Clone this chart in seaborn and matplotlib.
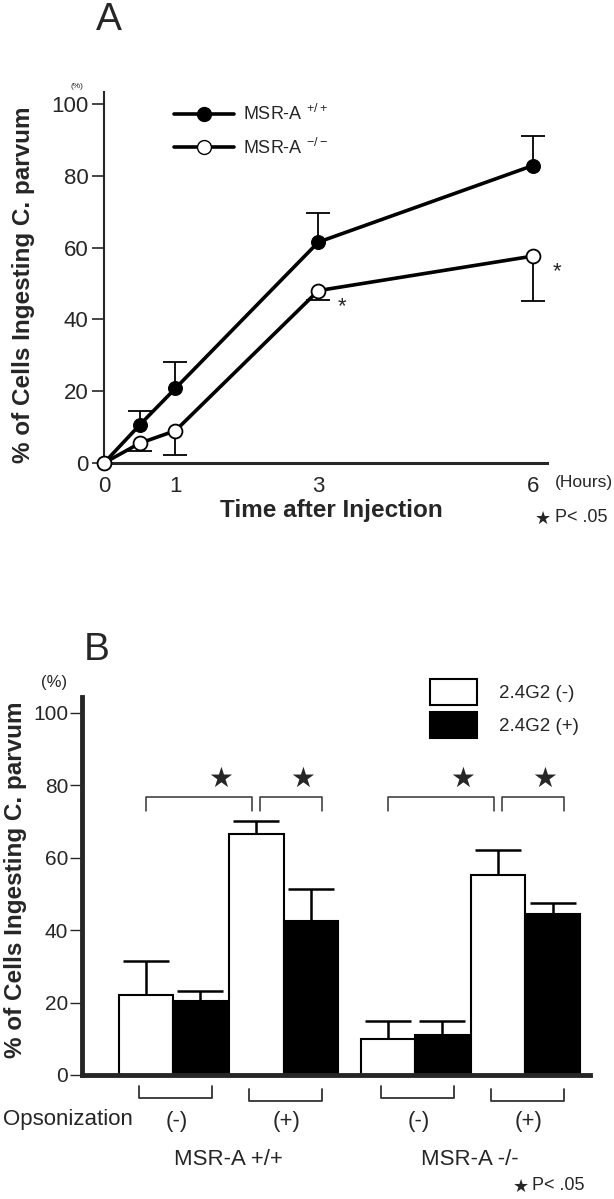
import matplotlib
matplotlib.use('Agg')
import matplotlib.pyplot as plt
import numpy as np
import pandas as pd
import seaborn as sns
from matplotlib.lines import Line2D
from matplotlib.patches import Patch

# ---- panel A: time course ----
hours = [0, 0.5, 1, 3, 6]
wt_pct = [0, 10.6, 20.8, 61.5, 82.8]
wt_err = [0, 4.0, 7.3, 8.0, 8.2]
ko_pct = [0, 5.5, 9.0, 48.0, 57.6]
ko_err = [0, 2.1, 6.8, 2.6, 12.6]
a_xticks = [0, 1, 3, 6]
a_yticks = [0, 20, 40, 60, 80, 100]
a_sig_hours = [3, 6]
a_labels = [r'MSR-A $^{+/+}$', r'MSR-A $^{-/-}$']

# ---- panel B: bars ----
genotype = ['MSR-A +/+'] * 4 + ['MSR-A -/-'] * 4
opson = ['(-)', '(-)', '(+)', '(+)'] * 2
blocker = ['2.4G2 (-)', '2.4G2 (+)'] * 4
b_means = [22.2, 20.3, 66.4, 42.4, 9.9, 11.1, 55.3, 44.4]
b_errs = [9.2, 2.8, 3.8, 9.0, 4.9, 3.7, 6.9, 3.0]
b_yticks = [0, 20, 40, 60, 80, 100]

W, H = 614, 1199


def fx(px):
    return px / W


def fy(py):
    return 1 - py / H


def one_sided(ax, x, y, err, up=True, **kw):
    # error bar drawn on one side only, cap only at the far end
    zeros = np.zeros(len(err))
    yerr = [zeros, err] if up else [err, zeros]
    _, caps, _ = ax.errorbar(x, y, yerr=yerr, fmt='none', ecolor='black', **kw)
    caps[0 if up else 1].set_visible(False)


sns.set_style('ticks')
plt.rcParams['font.family'] = ['Liberation Sans', 'DejaVu Sans']
plt.rcParams['mathtext.fontset'] = 'custom'
plt.rcParams['mathtext.rm'] = 'Liberation Sans'
plt.rcParams['mathtext.it'] = 'Liberation Sans'

fig = plt.figure(figsize=(W / 100, H / 100), dpi=100)

# ================= Panel A =================
axA = fig.add_axes([fx(104), fy(463), fx(443), 371 / H])
sns.lineplot(x=hours, y=wt_pct, ax=axA, color='black', lw=2.6, marker='o',
             markersize=10, mfc='black', mec='black', clip_on=False, zorder=4)
sns.lineplot(x=hours, y=ko_pct, ax=axA, color='black', lw=2.6, marker='o',
             markersize=10, mfc='white', mec='black', mew=1.3, clip_on=False, zorder=5)
one_sided(axA, hours[1:], wt_pct[1:], wt_err[1:], up=True,
          elinewidth=1.3, capsize=8.5, capthick=1.3, zorder=3)
one_sided(axA, hours[1:], ko_pct[1:], ko_err[1:], up=False,
          elinewidth=1.3, capsize=8.5, capthick=1.3, zorder=3)
for h in a_sig_hours:
    axA.annotate('*', xy=(h, ko_pct[hours.index(h)]), xytext=(24, -16),
                 textcoords='offset pixels', ha='center', va='center', fontsize=16)

axA.set_xlim(0, 6.2)
axA.set_ylim(0, 103.3)
axA.set_xticks(a_xticks)
axA.set_yticks(a_yticks)
axA.tick_params(axis='x', length=0, pad=9, labelsize=16)
axA.tick_params(axis='y', length=9, width=1.2, pad=2, labelsize=16)
axA.set_xlabel('')
axA.set_ylabel('')
sns.despine(ax=axA)
axA.spines['left'].set_linewidth(1.5)
axA.spines['bottom'].set_linewidth(2.2)

handles = [Line2D([], [], color='black', lw=2.6, marker='o', ms=10, mfc='black', mec='black'),
           Line2D([], [], color='black', lw=2.6, marker='o', ms=10, mfc='white', mec='black')]
axA.legend(handles, a_labels, loc='upper left', bbox_to_anchor=(0.159, 0.968),
           frameon=False, borderpad=0, borderaxespad=0, handlelength=3.3,
           handletextpad=0.5, labelspacing=0.75, fontsize=13)

fig.text(fx(109), fy(20), 'A', fontsize=28, ha='center', va='center')
fig.text(fx(77), fy(86), '(%)', fontsize=6, ha='center', va='center')
fig.text(fx(24), fy(285), '% of Cells Ingesting C. parvum', rotation=90,
         fontsize=17.5, fontweight='bold', ha='center', va='center')
fig.text(fx(331), fy(510), 'Time after Injection', fontsize=17.5,
         fontweight='bold', ha='center', va='center')
fig.text(fx(555), fy(482), '(Hours)', fontsize=12.5, ha='left', va='center')
fig.text(fx(543), fy(519), '\u2605', fontsize=13, ha='center', va='center')
fig.text(fx(555), fy(517), 'P< .05', fontsize=13, ha='left', va='center')

# ================= Panel B =================
axB = fig.add_axes([fx(82), 124 / H, fx(508), 378 / H])
gidx = {'MSR-A +/+': 0, 'MSR-A -/-': 1}
oidx = {'(-)': 0, '(+)': 1}
dfB = pd.DataFrame({'genotype': genotype, 'opson': opson, 'blocker': blocker,
                    'pct': b_means})
dfB['pos'] = [gidx[g] * 2.19 + oidx[o] for g, o in zip(genotype, opson)]
sns.barplot(data=dfB, x='pos', y='pct', hue='blocker', native_scale=True,
            hue_order=['2.4G2 (-)', '2.4G2 (+)'],
            palette={'2.4G2 (-)': 'white', '2.4G2 (+)': 'black'},
            edgecolor='black', linewidth=1.5, width=0.98, errorbar=None,
            legend=False, ax=axB)
bars = sorted(axB.patches, key=lambda p: p.get_x())
centers = [p.get_x() + p.get_width() / 2 for p in bars]
heights = [p.get_height() for p in bars]
one_sided(axB, centers, heights, b_errs, up=True,
          elinewidth=1.8, capsize=16.5, capthick=1.8, zorder=5)

axB.set_xlim(-0.824, 3.774)
axB.set_ylim(0, 104.3)
axB.set_yticks(b_yticks)
axB.set_xticks([])
axB.set_xlabel('')
axB.set_ylabel('')
axB.tick_params(axis='y', length=9, width=1.0, pad=1, labelsize=15)
sns.despine(ax=axB)
axB.spines['left'].set_linewidth(3.5)
axB.spines['bottom'].set_linewidth(3.5)

# significance brackets
bc = '#333333'
for g in range(2):
    c_neg_w, c_pos_w, c_pos_b = centers[4 * g], centers[4 * g + 2], centers[4 * g + 3]
    for left, right in [(c_neg_w, c_pos_w - 0.04), (c_pos_w + 0.03, c_pos_b + 0.1)]:
        axB.plot([left, left, right, right], [72.9, 76.7, 76.7, 72.9], color=bc, lw=1.1)
        axB.text(left + 0.7 * (right - left), 81.8, '\u2605', fontsize=20,
                 ha='center', va='center', family=['DejaVu Sans'])

# opsonization brackets and labels under the axis
for g, o in zip(genotype[::2], opson[::2]):
    x0 = gidx[g] * 2.19 + oidx[o]
    lo = -7.2 if o == '(+)' else -6.4
    hi = lo + 3.4
    axB.plot([x0 - 0.31, x0 - 0.31, x0 + 0.35, x0 + 0.35], [hi, lo, lo, hi],
             color=bc, lw=1.3, clip_on=False)
    axB.text(x0 + 0.03, -12.8, o, fontsize=16, ha='center', va='center')
for g in ['MSR-A +/+', 'MSR-A -/-']:
    axB.text(gidx[g] * 2.19 + 0.5, -23.3, g, fontsize=16, ha='center', va='center')
fig.text(fx(3), fy(1120), 'Opsonization', fontsize=16, ha='left', va='center')

legB = [Patch(facecolor='white', edgecolor='black', linewidth=1.5),
        Patch(facecolor='black', edgecolor='black', linewidth=1.5)]
axB.legend(legB, ['2.4G2 (-)', '2.4G2 (+)'], loc='upper left',
           bbox_to_anchor=(0.685, 1.048), frameon=False, borderpad=0,
           borderaxespad=0, handlelength=2.5, handleheight=1.73,
           labelspacing=0.4, handletextpad=1.17, fontsize=13.5)

fig.text(fx(97), fy(650), 'B', fontsize=28, ha='center', va='center')
fig.text(fx(54), fy(682), '(%)', fontsize=12, ha='center', va='center')
fig.text(fx(16), fy(880), '% of Cells Ingesting C. parvum', rotation=90,
         fontsize=17.5, fontweight='bold', ha='center', va='center')
fig.text(fx(521), fy(1187), '\u2605', fontsize=13, ha='center', va='center')
fig.text(fx(532), fy(1186), 'P< .05', fontsize=13, ha='left', va='center')

fig.savefig('out.png', dpi=100, facecolor='white')
